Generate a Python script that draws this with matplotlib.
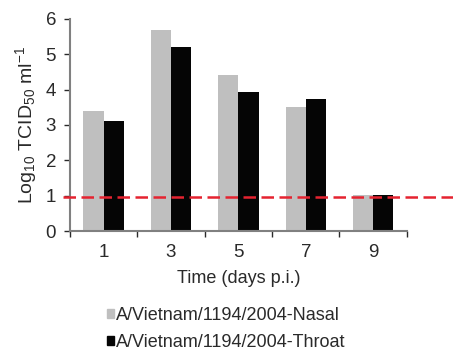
import matplotlib
matplotlib.use('Agg')
import matplotlib.pyplot as plt
from matplotlib.patches import Patch
import numpy as np

# data
days = ['1', '3', '5', '7', '9']
nasal = [3.40, 5.69, 4.42, 3.52, 1.01]
throat = [3.11, 5.22, 3.92, 3.74, 1.01]
detection_limit = 0.95

plt.rcParams['font.family'] = ['Liberation Sans', 'DejaVu Sans']
plt.rcParams['mathtext.fontset'] = 'custom'
plt.rcParams['mathtext.rm'] = 'Liberation Sans'
plt.rcParams['mathtext.it'] = 'Liberation Sans'

fig = plt.figure(figsize=(4.53, 3.58), dpi=100)
ax = fig.add_axes([0.1545, 0.3547, 0.7435, 0.5923])

x = np.arange(len(days)) + 0.5
w = 0.3
ax.bar(x - w / 2, nasal, width=w, color='#bfbfbf', label='A/Vietnam/1194/2004-Nasal')
ax.bar(x + w / 2, throat, width=w, color='#050505', label='A/Vietnam/1194/2004-Throat')

# dashed limit line runs past the axes
ax.axhline(detection_limit, xmin=-0.02, xmax=1.2, color='#e52330', lw=1.8,
           dashes=(5, 2.2), clip_on=False, zorder=5)

ax.set_xlim(0, len(days))
ax.set_ylim(0, 6)
ax.set_xticks(np.arange(len(days) + 1))
ax.set_xticklabels([])
ax.set_xticks(x, minor=True)
ax.set_xticklabels(days, minor=True)
ax.tick_params(axis='x', which='minor', length=0, labelsize=13.5, pad=9)
ax.tick_params(axis='x', which='major', length=4, color='#808080', width=1)
ax.set_yticks(range(7))
ax.tick_params(axis='y', length=4, color='#808080', width=1, labelsize=13.5, pad=6)
ax.tick_params(colors='#2a2a2a', which='both', labelcolor='#2a2a2a')

for s in ['top', 'right']:
    ax.spines[s].set_visible(False)
for s in ['left', 'bottom']:
    ax.spines[s].set_color('#808080')
    ax.spines[s].set_linewidth(1.5)

ax.set_xlabel('Time (days p.i.)', fontsize=13, color='#2a2a2a', labelpad=7)
ax.set_ylabel('Log$_{10}$ TCID$_{50}$ ml$^{-1}$', fontsize=14, color='#2a2a2a', labelpad=5)

handles = [Patch(color='#bfbfbf'), Patch(color='#050505')]
fig.legend(handles, ['A/Vietnam/1194/2004-Nasal', 'A/Vietnam/1194/2004-Throat'],
           loc='upper center', bbox_to_anchor=(0.5, 0.163), frameon=False,
           fontsize=13, handlelength=0.4, handleheight=0.4, handletextpad=0.1,
           labelspacing=0.55, labelcolor='#2a2a2a', borderaxespad=0)

fig.savefig('out.png', dpi=100)
